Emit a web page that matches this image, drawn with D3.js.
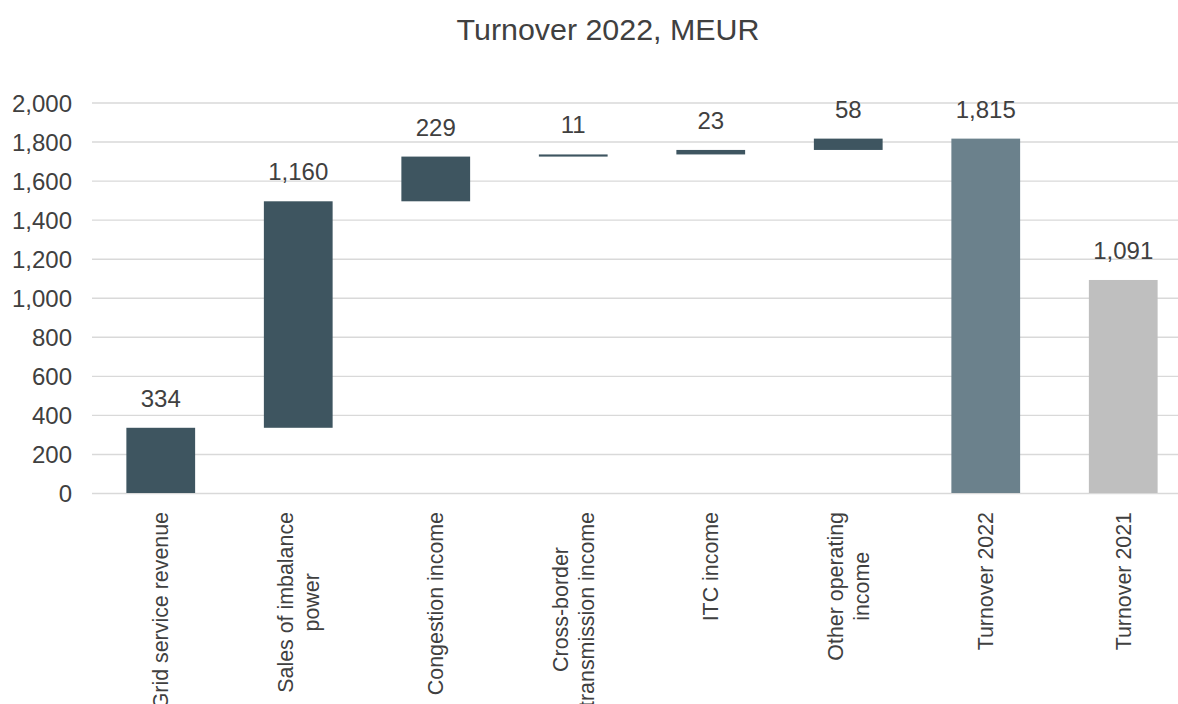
<!DOCTYPE html>
<html>
<head>
<meta charset="utf-8">
<script src="https://cdn.jsdelivr.net/npm/d3@7"></script>
<style>
  body { margin: 0; background: #fff; }
  text { font-family: "Liberation Sans", Arial, sans-serif; fill: #404040; }
</style>
</head>
<body>
<div id="chart"></div>
<script>
// data
var categories = [
    ['Grid service revenue'],
    ['Sales of imbalance', 'power'],
    ['Congestion income'],
    ['Cross-border', 'transmission income'],
    ['ITC income'],
    ['Other operating', 'income'],
    ['Turnover 2022'],
    ['Turnover 2021']
];
var steps = [334, 1160, 229, 11, 23, 58];   // waterfall increments
var totals = [1815, 1091];                  // Turnover 2022, Turnover 2021
var yTicks = [0, 200, 400, 600, 800, 1000, 1200, 1400, 1600, 1800, 2000];

var W = 1178, H = 704;
var margin = { top: 102.5, right: -14, bottom: 211, left: 92 },
    width = W - margin.left - margin.right,
    height = H - margin.top - margin.bottom;

var colors = { step: "#3e5560", total: "#6b818c", prior: "#bfbfbf" };

// build bar table: each bar has a bottom and top value
var bars = [];
var run = 0;
steps.forEach(function (v, i) {
    bars.push({ key: i, lo: run, hi: run + v, value: v, type: 'step' });
    run += v;
});
bars.push({ key: 6, lo: 0, hi: totals[0], value: totals[0], type: 'total' });
bars.push({ key: 7, lo: 0, hi: totals[1], value: totals[1], type: 'prior' });

var svg = d3.select("#chart")
    .append("svg")
    .attr("width", W)
    .attr("height", H);

svg.append("text")
    .attr("x", 608)
    .attr("y", 40)
    .attr("text-anchor", "middle")
    .style("font-size", "30.4px")
    .text("Turnover 2022, MEUR");

var g = svg.append("g")
    .attr("transform", "translate(" + margin.left + "," + margin.top + ")");

var x = d3.scaleBand()
    .domain(d3.range(categories.length))
    .range([0, width])
    .paddingInner(0.5)
    .paddingOuter(0.25);

var y = d3.scaleLinear()
    .domain([0, 2000])
    .range([height, 0]);

// gridlines + tick labels
var yAxis = g.append("g")
    .call(d3.axisLeft(y).tickValues(yTicks).tickFormat(d3.format(",")).tickSize(-width).tickPadding(20));
yAxis.select(".domain").remove();
yAxis.selectAll("line")
    .attr("stroke", "#d9d9d9")
    .attr("stroke-width", 1.4);
yAxis.selectAll("text")
    .style("font-size", "24px")
    .style("font-family", "Liberation Sans, Arial, sans-serif")
    .attr("fill", "#404040")
    .attr("dy", "0.36em");

// bars
g.append("g").selectAll("rect")
    .data(bars)
    .join("rect")
    .attr("x", function (d) { return x(d.key) })
    .attr("y", function (d) { return y(d.hi) })
    .attr("width", x.bandwidth())
    .attr("height", function (d) { return Math.max(y(d.lo) - y(d.hi), 2) })
    .attr("fill", function (d) { return colors[d.type] });

// value labels
g.append("g").selectAll("text")
    .data(bars)
    .join("text")
    .attr("x", function (d) { return x(d.key) + x.bandwidth() / 2 })
    .attr("y", function (d) { return y(d.hi) - 21 })
    .attr("text-anchor", "middle")
    .style("font-size", "24px")
    .text(function (d) { return d3.format(",")(d.value) });

// rotated category labels, top end just under the axis, lines centred on each other
var fs = 21.4, lineH = fs * 1.2;
var labels = g.append("g").selectAll("g")
    .data(categories)
    .join("g");
labels.each(function (lines, i) {
    var lg = d3.select(this);
    var ts = lg.selectAll("text")
        .data(lines)
        .join("text")
        .attr("text-anchor", "middle")
        .attr("x", 0)
        .attr("y", function (d, j) { return (j - (lines.length - 1) / 2) * lineH + fs * 0.36 })
        .style("font-size", fs + "px")
        .text(function (d) { return d });
    var maxLen = d3.max(ts.nodes(), function (n) { return n.getComputedTextLength() });
    lg.attr("transform", "translate(" + (x(i) + x.bandwidth() / 2) + "," + (height + 19 + maxLen / 2) + ") rotate(-90)");
});
</script>
</body>
</html>
